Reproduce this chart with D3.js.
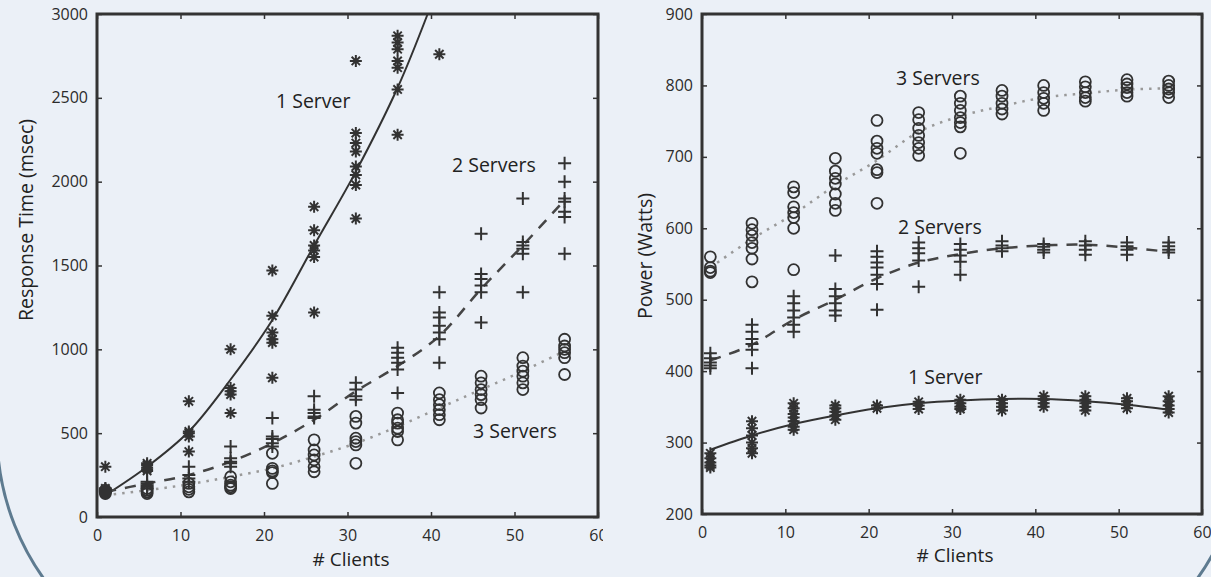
<!DOCTYPE html>
<html>
<head>
<meta charset="utf-8">
<script src="https://cdn.jsdelivr.net/npm/d3@7"></script>
<style>
  html, body { margin: 0; padding: 0; background: #ebf0f7; }
  svg { display: block; font-family: "Open Sans", sans-serif; }
</style>
</head>
<body>
<svg width="1211" height="577"></svg>
<script>
// x positions of the measurements (# clients)
const clients = [1, 6, 11, 16, 21, 26, 31, 36, 41, 46, 51, 56];

// Response time (msec), one list per client count
const resp1Server = [
    [300, 170, 160, 150, 140],
    [320, 310, 295, 285, 275],
    [690, 510, 500, 480, 390],
    [1000, 770, 750, 730, 620],
    [1470, 1200, 1100, 1060, 1040, 830],
    [1850, 1710, 1620, 1590, 1550, 1220],
    [2720, 2290, 2230, 2180, 2090, 2040, 1980, 1780],
    [2870, 2830, 2790, 2720, 2680, 2550, 2280],
    [2760]
];
const resp2Servers = [
    [170, 160, 150],
    [210, 200, 190, 180, 170],
    [300, 250, 230, 210],
    [420, 350, 330, 320, 300],
    [590, 480, 465, 440, 420],
    [720, 640, 620, 600, 590],
    [800, 760, 720, 700],
    [1010, 980, 950, 920, 880, 740],
    [1340, 1220, 1190, 1140, 1100, 1060, 920],
    [1690, 1450, 1420, 1380, 1340, 1160],
    [1900, 1640, 1620, 1600, 1570, 1340],
    [2110, 2000, 1900, 1880, 1820, 1790, 1570]
];
const resp3Servers = [
    [160, 150, 140],
    [170, 160, 150, 140],
    [200, 180, 165, 150],
    [240, 210, 190, 180, 170],
    [380, 290, 275, 265, 200],
    [460, 400, 370, 340, 300, 270],
    [600, 560, 470, 450, 430, 320],
    [620, 580, 560, 530, 510, 460],
    [740, 700, 670, 640, 610, 580],
    [840, 800, 760, 730, 700, 650],
    [950, 900, 870, 840, 800, 760],
    [1060, 1020, 1000, 980, 950, 850]
];

// fitted curves of the response time chart
const respFit1X = [1, 6, 11, 16, 21, 26, 31, 36, 39.6];
const respFit1 = [130, 300, 510, 820, 1175, 1620, 2060, 2560, 3000];
const respFit2 = [150, 200, 250, 330, 440, 580, 750, 900, 1080, 1360, 1620, 1890];
const respFit3 = [130, 160, 195, 240, 290, 360, 440, 540, 650, 760, 870, 990];

// Power (Watts), one list per client count
const power1Server = [
    [285, 278, 272, 268, 265],
    [330, 320, 310, 300, 292, 285],
    [355, 348, 340, 335, 330, 322, 318],
    [352, 348, 343, 338, 332],
    [352, 348],
    [357, 352, 347],
    [360, 355, 350, 347],
    [360, 355, 350, 345],
    [365, 360, 355, 350],
    [365, 360, 355, 350, 345],
    [362, 358, 353, 348],
    [365, 358, 352, 347, 342]
];
const power2Servers = [
    [425, 418, 412, 408, 404],
    [465, 455, 445, 438, 430, 404],
    [505, 495, 485, 475, 465, 455],
    [562, 515, 505, 495, 485, 478],
    [568, 560, 552, 545, 535, 522, 486],
    [580, 572, 565, 555, 518],
    [578, 570, 562, 553, 535],
    [582, 576, 572, 568],
    [578, 574, 570, 566],
    [582, 576, 570, 563],
    [580, 575, 570, 563],
    [580, 575, 570, 566]
];
const power3Servers = [
    [560, 545, 540, 538],
    [607, 598, 590, 580, 572, 557, 525],
    [658, 650, 630, 622, 615, 600, 542],
    [698, 680, 670, 662, 648, 635, 625],
    [751, 722, 712, 705, 682, 678, 635],
    [762, 752, 740, 730, 720, 712, 702],
    [785, 775, 765, 755, 748, 742, 705],
    [793, 785, 775, 767, 760],
    [800, 790, 782, 775, 765],
    [805, 798, 790, 783, 778],
    [808, 802, 797, 790, 785],
    [806, 800, 795, 790, 783]
];
const powerFit1 = [290, 310, 326, 338, 348, 355, 359, 361, 361, 358, 353, 346];
const powerFit2 = [415, 437, 472, 500, 530, 552, 564, 572, 576, 577, 573, 567];
const powerFit3 = [545, 585, 620, 660, 695, 735, 757, 771, 783, 789, 794, 796];

const xTicks = [0, 10, 20, 30, 40, 50, 60];
const respTicks = [0, 500, 1000, 1500, 2000, 2500, 3000];
const powerTicks = [200, 300, 400, 500, 600, 700, 800, 900];

const svg = d3.select("svg");
const ink = "#333";

// big rounded panel border, mostly outside the picture
svg.append("rect")
    .attr("x", -3).attr("y", -400)
    .attr("width", 1247).attr("height", 1083)
    .attr("rx", 250).attr("ry", 250)
    .attr("fill", "none")
    .attr("stroke", "#5e7b90")
    .attr("stroke-width", 3);

// slight softening of the marks, the original is a scanned figure
svg.append("filter").attr("id", "soft")
    .append("feGaussianBlur").attr("stdDeviation", 0.45);

// marker shapes
const asterisk = r => `M${-r},0H${r}M0,${-r}V${r}M${-0.7*r},${-0.7*r}L${0.7*r},${0.7*r}M${-0.7*r},${0.7*r}L${0.7*r},${-0.7*r}`;
const plus = r => `M${-r},0H${r}M0,${-r}V${r}`;

function flatten(groups) {
    const pts = [];
    groups.forEach((g, i) => g.forEach(v => pts.push([clients[i], v])));
    return pts;
}

function drawChart(opt) {
    const g = svg.append("g");
    svg.append("clipPath").attr("id", opt.clip.id)
        .append("rect").attr("x", 0).attr("y", 0)
        .attr("width", opt.clip.w).attr("height", 577);
    g.attr("clip-path", `url(#${opt.clip.id})`);

    const x = opt.x, y = opt.y;
    const [x0, x1] = x.range();
    const [y0, y1] = y.range();

    const plotClip = opt.clip.id + "-plot";
    svg.append("clipPath").attr("id", plotClip)
        .append("rect").attr("x", x0).attr("y", y1)
        .attr("width", x1 - x0).attr("height", y0 - y1);

    // axes with inward ticks on all four sides
    g.append("g").attr("transform", `translate(0,${y0})`)
        .call(d3.axisBottom(x).tickValues(xTicks).tickSize(-5).tickPadding(13).tickFormat(d3.format("d")))
        .call(a => a.select(".domain").remove());
    g.append("g").attr("transform", `translate(0,${y1})`)
        .call(d3.axisTop(x).tickValues(xTicks).tickSize(-5).tickFormat(""))
        .call(a => a.select(".domain").remove());
    g.append("g").attr("transform", `translate(${x0},0)`)
        .call(d3.axisLeft(y).tickValues(opt.yTicks).tickSize(-5).tickPadding(9).tickFormat(d3.format("d")))
        .call(a => a.select(".domain").remove());
    g.append("g").attr("transform", `translate(${x1},0)`)
        .call(d3.axisRight(y).tickValues(opt.yTicks).tickSize(-5).tickFormat(""))
        .call(a => a.select(".domain").remove());
    g.selectAll(".tick line").attr("stroke", ink).attr("stroke-width", 1.5);
    g.selectAll(".tick text")
        .attr("font-family", "Open Sans, sans-serif")
        .attr("font-size", 16)
        .attr("fill", "#2b2b2b");

    // frame
    g.append("rect")
        .attr("x", x0).attr("y", y1)
        .attr("width", x1 - x0).attr("height", y0 - y1)
        .attr("fill", "none").attr("stroke", ink).attr("stroke-width", 3);

    const inner = g.append("g")
        .attr("clip-path", `url(#${plotClip})`)
        .append("g").attr("filter", "url(#soft)");

    // fitted curves
    opt.fits.forEach(f => {
        const line = d3.line()
            .x(d => x(d[0])).y(d => y(d[1]))
            .curve(d3.curveCatmullRom);
        inner.append("path")
            .datum(f.xs.map((v, i) => [v, f.ys[i]]))
            .attr("d", line)
            .attr("fill", "none")
            .attr("stroke", f.color)
            .attr("stroke-width", f.width)
            .attr("stroke-dasharray", f.dash);
    });

    // measurement markers
    opt.series.forEach(s => {
        const pts = flatten(s.data);
        if (s.shape === "circle") {
            inner.selectAll(null).data(pts).enter().append("circle")
                .attr("cx", d => x(d[0])).attr("cy", d => y(d[1]))
                .attr("r", 5.5)
                .attr("fill", "none").attr("stroke", ink).attr("stroke-width", 1.8);
        } else {
            inner.selectAll(null).data(pts).enter().append("path")
                .attr("transform", d => `translate(${x(d[0])},${y(d[1])})`)
                .attr("d", s.shape === "star" ? asterisk(6) : plus(6.5))
                .attr("fill", "none").attr("stroke", ink).attr("stroke-width", 2);
        }
    });

    // series labels
    opt.labels.forEach(l => {
        g.append("text")
            .attr("x", l.x).attr("y", l.y + 7)
            .attr("font-size", 19.5)
            .attr("fill", "#222")
            .text(l.text);
    });

    // axis titles
    g.append("text")
        .attr("x", opt.xTitle.x).attr("y", opt.xTitle.y + 7)
        .attr("text-anchor", "middle")
        .attr("font-size", 19)
        .attr("fill", "#222")
        .text("# Clients");
    g.append("text")
        .attr("transform", `translate(${opt.yTitle.x},${opt.yTitle.y}) rotate(-90)`)
        .attr("text-anchor", "middle")
        .attr("dominant-baseline", "central")
        .attr("font-size", 19.5)
        .attr("fill", "#222")
        .text(opt.yTitle.text);
}

// Response time chart
drawChart({
    clip: {id: "clipLeft", w: 603},
    x: d3.scaleLinear().domain([0, 60]).range([97, 598]),
    y: d3.scaleLinear().domain([0, 3000]).range([517, 14]),
    yTicks: respTicks,
    fits: [
        {xs: respFit1X, ys: respFit1, color: "#333", width: 2, dash: null},
        {xs: clients, ys: respFit2, color: "#444", width: 2.5, dash: "11,9"},
        {xs: clients, ys: respFit3, color: "#999", width: 2.5, dash: "2.5,6"}
    ],
    series: [
        {data: resp3Servers, shape: "circle"},
        {data: resp2Servers, shape: "plus"},
        {data: resp1Server, shape: "star"}
    ],
    labels: [
        {text: "1 Server", x: 276, y: 101},
        {text: "2 Servers", x: 452, y: 165},
        {text: "3 Servers", x: 473, y: 431}
    ],
    xTitle: {x: 351, y: 559},
    yTitle: {x: 25, y: 220, text: "Response Time (msec)"}
});

// Power chart
drawChart({
    clip: {id: "clipRight", w: 1211},
    x: d3.scaleLinear().domain([0, 60]).range([702, 1202]),
    y: d3.scaleLinear().domain([200, 900]).range([514, 14]),
    yTicks: powerTicks,
    fits: [
        {xs: clients, ys: powerFit1, color: "#333", width: 2, dash: null},
        {xs: clients, ys: powerFit2, color: "#444", width: 2.5, dash: "11,9"},
        {xs: clients, ys: powerFit3, color: "#999", width: 2.5, dash: "2.5,6"}
    ],
    series: [
        {data: power3Servers, shape: "circle"},
        {data: power2Servers, shape: "plus"},
        {data: power1Server, shape: "star"}
    ],
    labels: [
        {text: "3 Servers", x: 896, y: 78},
        {text: "2 Servers", x: 898, y: 227},
        {text: "1 Server", x: 908, y: 377}
    ],
    xTitle: {x: 955, y: 555},
    yTitle: {x: 644, y: 256, text: "Power (Watts)"}
});
</script>
</body>
</html>
